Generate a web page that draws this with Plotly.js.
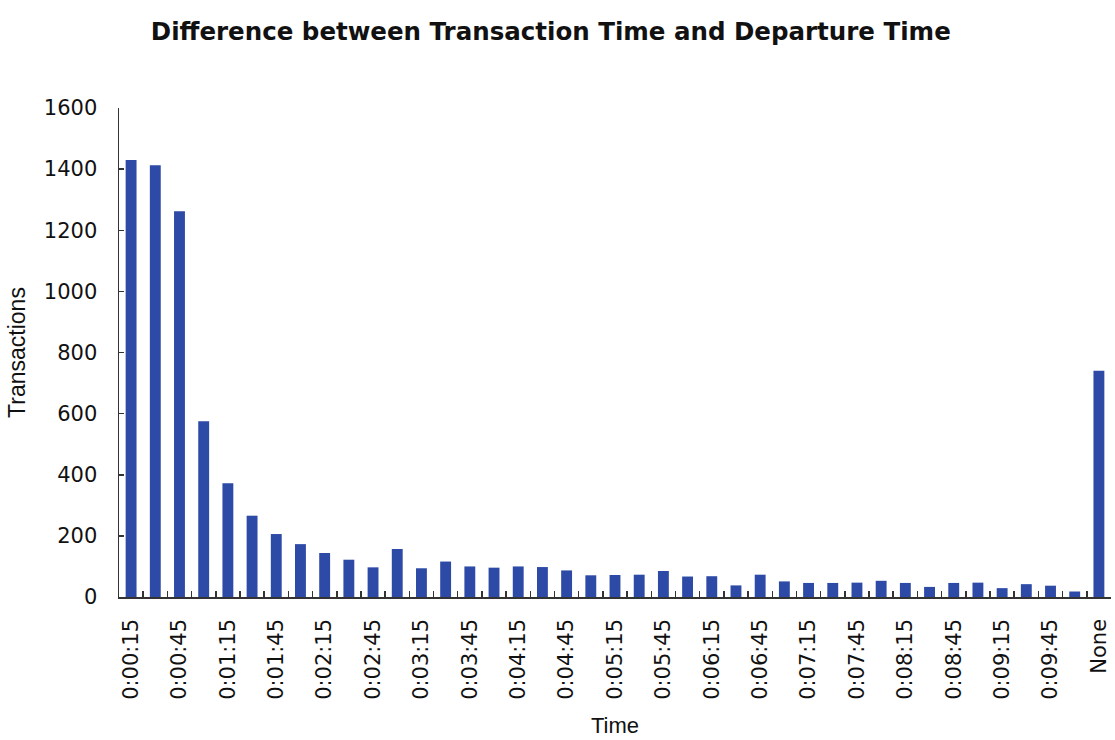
<!DOCTYPE html>
<html>
<head>
<meta charset="utf-8">
<script src="https://cdn.plot.ly/plotly-3.0.1.min.js"></script>
<style>
  html, body { margin: 0; padding: 0; background: #ffffff; }
  #chart { width: 1115px; height: 740px; }
</style>
</head>
<body>
<div id="chart"></div>
<script>
// Categories: 15-second buckets from 0:00:15 to 0:10:00, plus "None"
const categories = [
  "0:00:15","0:00:30","0:00:45","0:01:00","0:01:15","0:01:30","0:01:45","0:02:00",
  "0:02:15","0:02:30","0:02:45","0:03:00","0:03:15","0:03:30","0:03:45","0:04:00",
  "0:04:15","0:04:30","0:04:45","0:05:00","0:05:15","0:05:30","0:05:45","0:06:00",
  "0:06:15","0:06:30","0:06:45","0:07:00","0:07:15","0:07:30","0:07:45","0:08:00",
  "0:08:15","0:08:30","0:08:45","0:09:00","0:09:15","0:09:30","0:09:45","0:10:00",
  "None"
];

// Transactions per bucket
const transactions = [
  1430, 1413, 1262, 575, 372, 266, 206, 173,
  144, 122, 97, 157, 94, 116, 100, 96,
  100, 98, 87, 71, 72, 73, 85, 67,
  68, 38, 73, 51, 46, 46, 47, 53,
  46, 33, 46, 47, 29, 42, 37, 18,
  740
];

// Tick labels: every other category is labelled
const tickLabels = categories.map((c, i) => (i % 2 === 0 ? c : ""));

const yTicks = [0, 200, 400, 600, 800, 1000, 1200, 1400, 1600];

const trace = {
  type: "bar",
  x: categories,
  y: transactions,
  marker: { color: "#2d4aa6", line: { width: 0 } },
  hoverinfo: "x+y"
};

const layout = {
  width: 1115,
  height: 740,
  paper_bgcolor: "#ffffff",
  plot_bgcolor: "#ffffff",
  margin: { l: 119, r: 4, t: 108, b: 143, autoexpand: false },
  bargap: 0.55,
  showlegend: false,
  title: {
    text: "<b>Difference between Transaction Time and Departure Time</b>",
    font: { family: "DejaVu Sans", size: 24.5, color: "#111111" },
    xref: "container",
    yref: "container",
    x: 0.494,
    xanchor: "center",
    y: 0.957,
    yanchor: "middle"
  },
  xaxis: {
    type: "category",
    categoryorder: "array",
    categoryarray: categories,
    range: [-0.5, categories.length - 0.5],
    tickmode: "array",
    tickvals: categories,
    ticktext: tickLabels,
    tickson: "boundaries",
    ticks: "inside",
    ticklen: 6,
    tickwidth: 1.5,
    tickcolor: "#333333",
    tickangle: -90,
    tickfont: { family: "DejaVu Sans", size: 21, color: "#111111" },
    ticklabelstandoff: 12,
    showline: true,
    linecolor: "#333333",
    linewidth: 1.5,
    showgrid: false,
    zeroline: false,
    automargin: false,
    title: {
      text: "Time",
      font: { family: "Liberation Sans", size: 22, color: "#111111" },
      standoff: 18
    }
  },
  yaxis: {
    range: [0, 1600],
    tickmode: "array",
    tickvals: yTicks,
    ticktext: yTicks.map(String),
    ticks: "inside",
    ticklen: 5,
    tickwidth: 1.5,
    tickcolor: "#333333",
    tickfont: { family: "DejaVu Sans", size: 21, color: "#111111" },
    ticklabelstandoff: 16,
    showline: true,
    linecolor: "#333333",
    linewidth: 1.5,
    showgrid: false,
    zeroline: false,
    automargin: false,
    title: {
      text: "Transactions",
      font: { family: "Liberation Sans", size: 23, color: "#111111" },
      standoff: 12
    }
  }
};

Plotly.newPlot("chart", [trace], layout, { displayModeBar: false, staticPlot: true });
</script>
</body>
</html>
